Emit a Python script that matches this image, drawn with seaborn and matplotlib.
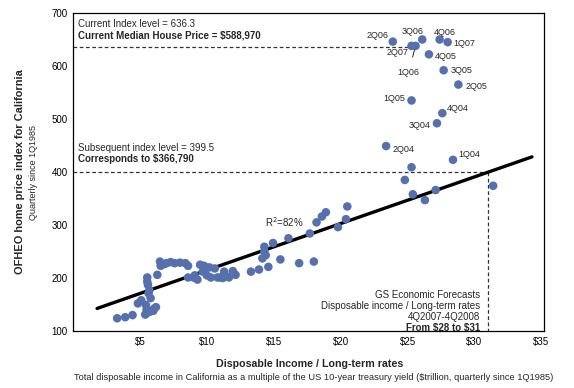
import numpy as np
import pandas as pd
import matplotlib
matplotlib.use('Agg')
import matplotlib.pyplot as plt
import seaborn as sns

# disposable income / long-term rates ($trillion) vs OFHEO index, quarterly since 1Q1985
income = [3.3, 3.9, 4.45, 4.85, 5.1, 5.4, 5.45, 5.55, 5.6, 5.7, 5.65, 5.8, 5.7, 6.0, 6.05, 6.2, 5.55, 5.5,
          6.3, 6.5, 6.55, 6.8, 7.0, 7.3, 7.6, 8.0, 8.4, 8.6, 8.6, 9.0, 9.3, 9.5, 9.7, 9.8, 10.2, 10.3,
          10.6, 10.8, 11.0, 11.3, 11.4, 11.65, 11.95, 12.15, 9.1, 10.0, 11.2, 12.0,
          13.3, 13.9, 14.15, 14.4, 14.3, 14.3, 14.6, 14.95, 15.5, 16.1, 16.9, 18.0, 17.7, 18.2, 18.6,
          18.9, 19.8, 20.4, 20.5, 24.8, 25.4, 26.3, 27.1, 25.3, 31.4]
index = [124, 126, 130, 152, 158, 131, 149, 201, 187, 177, 171, 162, 136, 138, 142, 145, 193, 140,
         206, 231, 223, 226, 228, 230, 228, 229, 228, 223, 201, 201, 197, 225, 212, 223, 220, 201,
         218, 201, 201, 212, 204, 201, 213, 206, 205, 205, 200, 208,
         212, 216, 237, 243, 259, 250, 221, 266, 235, 275, 228, 231, 284, 305, 316,
         324, 296, 311, 335, 385, 358, 347, 366, 409, 374]

# labelled recent quarters
q_labels = ['1Q04', '2Q04', '3Q04', '4Q04', '1Q05', '2Q05', '3Q05', '4Q05',
            '1Q06', '2Q06', '3Q06', '4Q06', '1Q07', '2Q07']
q_income = [28.4, 23.4, 27.2, 27.6, 25.3, 28.8, 27.7, 26.6, 25.6, 23.9, 26.1, 27.4, 28.0, 25.3]
q_index = [423, 449, 492, 511, 535, 565, 592, 622, 638, 646, 650, 650, 645, 638]
# label offsets in pixels and alignment
q_offsets = [(5, 5, 'left'), (6, -3, 'left'), (-6, -2, 'right'), (5, 5, 'left'),
             (-6, 2, 'right'), (7, -2, 'left'), (7, 0, 'left'), (6, -2, 'left'),
             (-7, -27, 'center'), (-4, 6, 'right'), (-10, 8, 'center'), (5, 7, 'center'),
             (6, -1, 'left'), (-3, -7, 'right')]

fit_intercept = 126.7
fit_slope = 8.8
fit_range = [1.8, 34.3]

current_level = 636.3
current_x = 25.3
forecast_level = 399.5
forecast_x = 31.0

df = pd.DataFrame({'income': income + q_income, 'index': index + q_index})

sns.set_style('white')
plt.rcParams['font.family'] = ['Liberation Sans', 'DejaVu Sans']

fig = plt.figure(figsize=(5.74, 3.88), dpi=100)
ax = fig.add_axes([73/574, 1-331/388, 471/574, 318/388])

col = '#5670ad'
sns.scatterplot(data=df, x='income', y='index', ax=ax, color=col, s=38,
                edgecolor='none', zorder=3)

fx = np.array(fit_range)
fit = pd.DataFrame({'x': fx, 'y': fit_intercept + fit_slope * fx})
sns.lineplot(data=fit, x='x', y='y', ax=ax, color='black', lw=2.4, zorder=2)

dash = dict(color='#333333', lw=0.9, linestyle=(0, (3, 2)), zorder=1)
ax.plot([0, current_x], [current_level, current_level], **dash)
ax.plot([0, forecast_x], [forecast_level, forecast_level], **dash)
ax.plot([forecast_x, forecast_x], [forecast_level, 100], **dash)

for lab, xv, yv, (dx, dy, ha) in zip(q_labels, q_income, q_index, q_offsets):
    if lab == '1Q06':
        ax.annotate(lab, (xv, yv), xytext=(dx, dy), textcoords='offset pixels',
                    ha=ha, va='center', fontsize=6.5,
                    arrowprops=dict(arrowstyle='-', color='black', lw=0.6,
                                    shrinkA=6, shrinkB=3))
    else:
        ax.annotate(lab, (xv, yv), xytext=(dx, dy), textcoords='offset pixels',
                    ha=ha, va='center', fontsize=6.5)

ax.text(0.4, 679, 'Current Index level = 636.3', fontsize=7, va='center')
ax.text(0.4, 658, r'Current Median House Price = \$588,970', fontsize=7,
        fontweight='bold', va='center')
ax.text(0.4, 445, 'Subsequent index level = 399.5', fontsize=7, va='center')
ax.text(0.4, 424, r'Corresponds to \$366,790', fontsize=7, fontweight='bold', va='center')
ax.text(15.8, 306, 'R$^2$=82%', fontsize=7, ha='center', va='center')

gs_lines = ['GS Economic Forecasts', 'Disposable income / Long-term rates', '4Q2007-4Q2008']
for i, t in enumerate(gs_lines):
    ax.text(30.4, 167 - i * 20.5, t, fontsize=7, ha='right', va='center')
ax.text(30.4, 106, r'From \$28 to \$31', fontsize=7, ha='right', va='center',
        fontweight='bold')

ax.set_xlim(0, 35.2)
ax.set_ylim(100, 700)
ax.set_xticks([5, 10, 15, 20, 25, 30, 35])
ax.set_xticklabels([r'\$5', r'\$10', r'\$15', r'\$20', r'\$25', r'\$30', r'\$35'])
ax.set_yticks([100, 200, 300, 400, 500, 600, 700])
ax.tick_params(length=0, labelsize=7, pad=4, colors='black')
ax.set_xlabel('')
ax.set_ylabel('')
for s in ax.spines.values():
    s.set_color('black')
    s.set_linewidth(0.9)

fig.text(20/574, 1-172/388, 'OFHEO home price index for California', rotation=90,
         fontsize=7.9, fontweight='bold', ha='center', va='center')
fig.text(33/574, 1-172/388, 'Quarterly since 1Q1985', rotation=90,
         fontsize=6.5, ha='center', va='center')
fig.text(310/574, 1-364/388, 'Disposable Income / Long-term rates',
         fontsize=7.7, fontweight='bold', ha='center', va='center')
fig.text(314/574, 1-377/388,
         r'Total disposable income in California as a multiple of the US 10-year treasury yield (\$trillion, quarterly since 1Q1985)',
         fontsize=6.7, ha='center', va='center')

fig.savefig('out.png', dpi=100)
